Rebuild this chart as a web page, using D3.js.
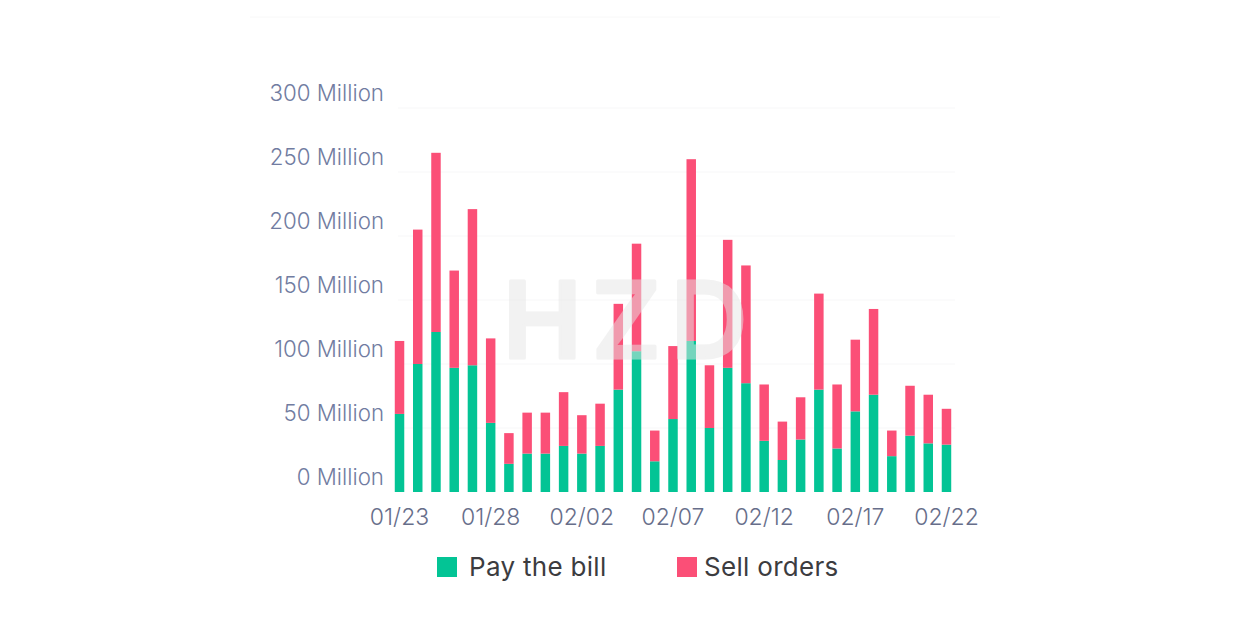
<!DOCTYPE html>
<html>
<head>
<meta charset="utf-8">
<script src="https://cdn.jsdelivr.net/npm/d3@7"></script>
<style>
html,body{margin:0;padding:0;background:#fff;}
svg{display:block;}
text{font-family:Inter,"Noto Sans",sans-serif;}
</style>
</head>
<body>
<div id="chart"></div>
<script>
var dates=["01/23","01/24","01/25","01/26","01/27","01/28","01/29","01/30","01/31","02/01","02/02",
    "02/03","02/04","02/05","02/06","02/07","02/08","02/09","02/10","02/11","02/12",
    "02/13","02/14","02/15","02/16","02/17","02/18","02/19","02/20","02/21","02/22"];
var payBill=[61,100,125,97,99,54,22,30,30,36,30,36,80,110,24,57,118,50,97,85,40,25,41,80,34,63,76,28,44,38,37];
var sellOrders=[57,105,140,76,122,66,24,32,32,42,30,33,67,84,24,57,142,49,100,92,44,30,33,75,50,56,67,20,39,38,28];
var seriesNames=["Pay the bill","Sell orders"];
var seriesColors=["#03c495","#fb4f77"];
var yTicks=[0,50,100,150,200,250,300];
var xTickLabels=["01/23","01/28","02/02","02/07","02/12","02/17","02/22"];

var width=1254,height=641;
var svg=d3.select("#chart").append("svg").attr("width",width).attr("height",height);

var x=d3.scaleBand().domain(dates).range([390.4,955.6]).paddingInner(0.48).paddingOuter(0.24);
var y=d3.scaleLinear().domain([0,300]).range([492,108]);

//faint top rule of the card
svg.append("line").attr("x1",250).attr("x2",1000).attr("y1",17).attr("y2",17)
    .attr("stroke","#f8f8f8");

//gridlines, no axis lines
var yAxis=d3.axisLeft(y).tickValues(yTicks).tickSize(0).tickFormat(function(d){return d+" Million"});
var yG=svg.append("g").attr("transform","translate(384,0)").call(yAxis);
yG.select(".domain").remove();
yG.selectAll("text").attr("x",0).attr("dy",0).attr("y",-7.5)
    .attr("font-size",22.3).attr("font-family","Inter").attr("font-weight",300).attr("fill","#717ca1");

svg.append("g").selectAll("line").data(yTicks.slice(1)).enter().append("line")
    .attr("x1",398).attr("x2",955)
    .attr("y1",function(d){return y(d)}).attr("y2",function(d){return y(d)})
    .attr("stroke","#f7f7f8");

var xAxis=d3.axisBottom(x).tickValues(xTickLabels).tickSize(0);
var xG=svg.append("g").attr("transform","translate(0,492)").call(xAxis);
xG.select(".domain").remove();
xG.selectAll("text").attr("y",17).attr("dy","0.71em")
    .attr("font-size",23).attr("font-family","Inter").attr("font-weight",300).attr("fill","#676e8a");

//stacked bars
var rows=dates.map(function(d,i){return {date:d,pay:payBill[i],sell:sellOrders[i]}});
var stack=d3.stack().keys(["pay","sell"])(rows);
svg.append("g").selectAll("g").data(stack).enter().append("g")
    .attr("fill",function(d,i){return seriesColors[i]})
    .selectAll("rect").data(function(d){return d}).enter().append("rect")
    .attr("x",function(d){return x(d.data.date)})
    .attr("width",x.bandwidth())
    .attr("y",function(d){return y(d[1])})
    .attr("height",function(d){return y(d[0])-y(d[1])});

//watermark sits on top of the bars
svg.append("text").attr("x",630).attr("y",358).attr("text-anchor","middle")
    .attr("font-size",106).attr("font-weight",600).attr("letter-spacing",10)
    .attr("font-family","Inter").attr("fill","#e6e6e6")
    .attr("stroke","#e6e6e6").attr("stroke-width",3).attr("stroke-linejoin","round")
    .attr("opacity",0.5).text("HZD");

//legend
var legendX=[437,677],legendTextX=[469,704];
var legend=svg.append("g").selectAll("g").data(seriesNames).enter().append("g");
legend.append("rect")
    .attr("x",function(d,i){return legendX[i]}).attr("y",557)
    .attr("width",20).attr("height",20)
    .attr("fill",function(d,i){return seriesColors[i]});
legend.append("text")
    .attr("x",function(d,i){return legendTextX[i]}).attr("y",576)
    .attr("font-size",26).attr("letter-spacing",0.3).attr("font-family","Inter").attr("fill","#3c3c3f").text(function(d){return d});
</script>
</body>
</html>
